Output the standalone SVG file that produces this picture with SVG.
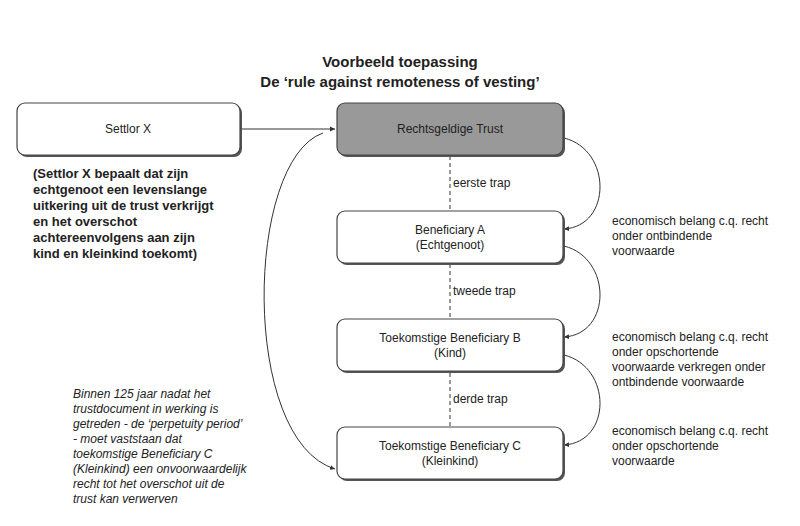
<svg xmlns="http://www.w3.org/2000/svg" width="800" height="526" viewBox="0 0 800 526">
<style>
text{font-family:"Liberation Sans",Arial,sans-serif;fill:#222}
.box{fill:#fff;stroke:#444;stroke-width:1.2}
.sh{fill:#555}
.c{fill:none;stroke:#333;stroke-width:1}
.d{fill:none;stroke:#333;stroke-width:1;stroke-dasharray:4,3}
.t{font-size:12px;text-anchor:middle}
.l{font-size:12px}
</style>
<defs><marker id="a" markerWidth="6" markerHeight="6" refX="5" refY="3" orient="auto"><path d="M0,0.5 L5,3 L0,5.5z" fill="#333"/></marker></defs>
<rect width="800" height="526" fill="#fff"/>
<text x="400" y="67" text-anchor="middle" font-size="15" font-weight="bold">Voorbeeld toepassing</text>
<text x="400" y="87" text-anchor="middle" font-size="15" font-weight="bold">De ‘rule against remoteness of vesting’</text>
<g id="connectors">
<line class="c" x1="241" y1="129" x2="335" y2="129" marker-end="url(#a)"/>
<line class="d" x1="450" y1="156" x2="450" y2="211"/>
<line class="d" x1="450" y1="264" x2="450" y2="319"/>
<line class="d" x1="450" y1="373" x2="450" y2="427"/>
<path class="c" d="M564,138 C612,150 612,226 564,229" marker-end="url(#a)"/>
<path class="c" d="M564,246 C612,258 612,334 564,337" marker-end="url(#a)"/>
<path class="c" d="M564,355 C612,367 612,442 564,445" marker-end="url(#a)"/>
<path class="c" d="M323,133 C245,160 240,440 335,469" marker-end="url(#a)"/>
<text class="l" x="453" y="187">eerste trap</text>
<text class="l" x="453" y="295">tweede trap</text>
<text class="l" x="453" y="403">derde trap</text>
</g>
<g id="settlor"><rect class="sh" x="19" y="105" width="223" height="52" rx="8"/><rect class="box" x="17" y="103" width="223" height="52" rx="8"/><text class="t" x="128" y="133">Settlor X</text></g>
<g id="trust"><rect class="sh" x="339" y="105" width="226" height="52" rx="8"/><rect x="337" y="103" width="226" height="52" rx="8" fill="#999" stroke="#444" stroke-width="1.2"/><text class="t" x="450" y="133">Rechtsgeldige Trust</text></g>
<g id="benA"><rect class="sh" x="339" y="213" width="226" height="52" rx="8"/><rect class="box" x="337" y="211" width="226" height="52" rx="8"/><text class="t" x="450" y="234">Beneficiary A</text><text class="t" x="450" y="249">(Echtgenoot)</text></g>
<g id="benB"><rect class="sh" x="339" y="321" width="226" height="52" rx="8"/><rect class="box" x="337" y="319" width="226" height="52" rx="8"/><text class="t" x="450" y="342">Toekomstige Beneficiary B</text><text class="t" x="450" y="357">(Kind)</text></g>
<g id="benC"><rect class="sh" x="339" y="429" width="226" height="52" rx="8"/><rect class="box" x="337" y="427" width="226" height="52" rx="8"/><text class="t" x="450" y="450">Toekomstige Beneficiary C</text><text class="t" x="450" y="465">(Kleinkind)</text></g>
<g id="notes">
<text font-size="13" font-weight="bold"><tspan x="33" y="178">(Settlor X bepaalt dat zijn</tspan><tspan x="33" y="194">echtgenoot een levenslange</tspan><tspan x="33" y="210">uitkering uit de trust verkrijgt</tspan><tspan x="33" y="226">en het overschot</tspan><tspan x="33" y="242">achtereenvolgens aan zijn</tspan><tspan x="33" y="258">kind en kleinkind toekomt)</tspan></text>
<text class="l"><tspan x="612" y="225">economisch belang c.q. recht</tspan><tspan x="612" y="240">onder ontbindende</tspan><tspan x="612" y="255">voorwaarde</tspan></text>
<text class="l"><tspan x="612" y="341">economisch belang c.q. recht</tspan><tspan x="612" y="356">onder opschortende</tspan><tspan x="612" y="371">voorwaarde verkregen onder</tspan><tspan x="612" y="386">ontbindende voorwaarde</tspan></text>
<text class="l"><tspan x="612" y="435">economisch belang c.q. recht</tspan><tspan x="612" y="450">onder opschortende</tspan><tspan x="612" y="465">voorwaarde</tspan></text>
<text class="l" font-style="italic"><tspan x="73" y="398">Binnen 125 jaar nadat het</tspan><tspan x="73" y="413">trustdocument in werking is</tspan><tspan x="73" y="428">getreden - de ‘perpetuity period’</tspan><tspan x="73" y="443">- moet vaststaan dat</tspan><tspan x="73" y="458">toekomstige Beneficiary C</tspan><tspan x="73" y="473">(Kleinkind) een onvoorwaardelijk</tspan><tspan x="73" y="488">recht tot het overschot uit de</tspan><tspan x="73" y="503">trust kan verwerven</tspan></text>
</g>
</svg>
